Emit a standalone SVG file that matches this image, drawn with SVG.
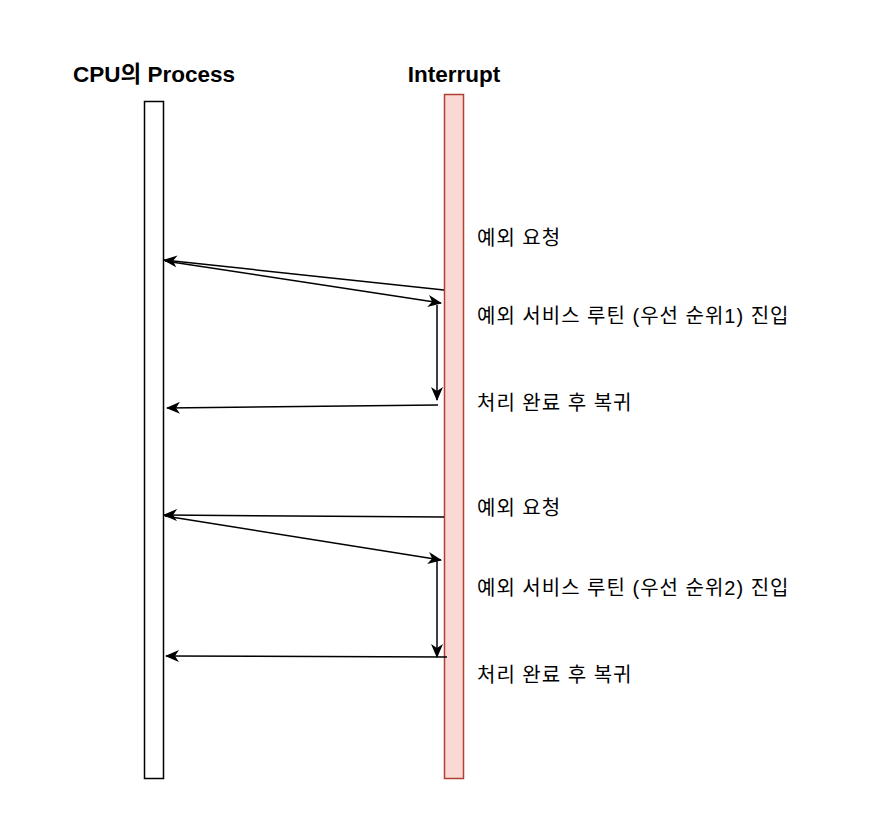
<svg xmlns="http://www.w3.org/2000/svg" width="888" height="824" viewBox="0 0 888 824">
<style>
.title{font-family:"Liberation Sans","Noto Sans CJK KR",sans-serif;font-weight:bold;font-size:22.5px;fill:#000;text-anchor:middle}
.lbl{font-family:"Liberation Sans","Noto Sans CJK KR",sans-serif;font-size:20px;letter-spacing:1px;fill:#000}
.edge{fill:none;stroke:#000;stroke-width:1.5}
</style>
<defs>
<marker id="arr" viewBox="0 0 14 12" refX="13" refY="6" markerWidth="14" markerHeight="12" markerUnits="userSpaceOnUse" orient="auto">
<path d="M0,0 L14,6 L0,12 L4,6 Z" fill="#000"/>
</marker>
</defs>
<rect width="888" height="824" fill="#fff"/>
<g id="cpu">
<rect x="144.5" y="101.5" width="19" height="677" fill="#fff" stroke="#000" stroke-width="1.5"/>
<text class="title" x="154" y="82">CPU의 Process</text>
</g>
<g id="interrupt">
<rect x="444.5" y="94.5" width="19" height="684" fill="#fad9d5" stroke="#ae4132" stroke-width="1.5"/>
<text class="title" x="454" y="82">Interrupt</text>
</g>
<g id="labels">
<text class="lbl" x="477" y="245">예외 요청</text>
<text class="lbl" x="477" y="323">예외 서비스 루틴 (우선 순위1) 진입</text>
<text class="lbl" x="477" y="410">처리 완료 후 복귀</text>
<text class="lbl" x="477" y="515">예외 요청</text>
<text class="lbl" x="477" y="595">예외 서비스 루틴 (우선 순위2) 진입</text>
<text class="lbl" x="477" y="682">처리 완료 후 복귀</text>
</g>
<g id="connectors">
<path class="edge" d="M444,290 L164,260" marker-end="url(#arr)"/>
<path class="edge" d="M165,261 L441,303" marker-end="url(#arr)"/>
<path class="edge" d="M437,305 L437,400" marker-end="url(#arr)"/>
<path class="edge" d="M438,405 L167,408" marker-end="url(#arr)"/>
<path class="edge" d="M444,517 L164,515" marker-end="url(#arr)"/>
<path class="edge" d="M165,516 L441,560" marker-end="url(#arr)"/>
<path class="edge" d="M437,561 L437,657" marker-end="url(#arr)"/>
<path class="edge" d="M447,657 L166,656" marker-end="url(#arr)"/>
</g>
</svg>
